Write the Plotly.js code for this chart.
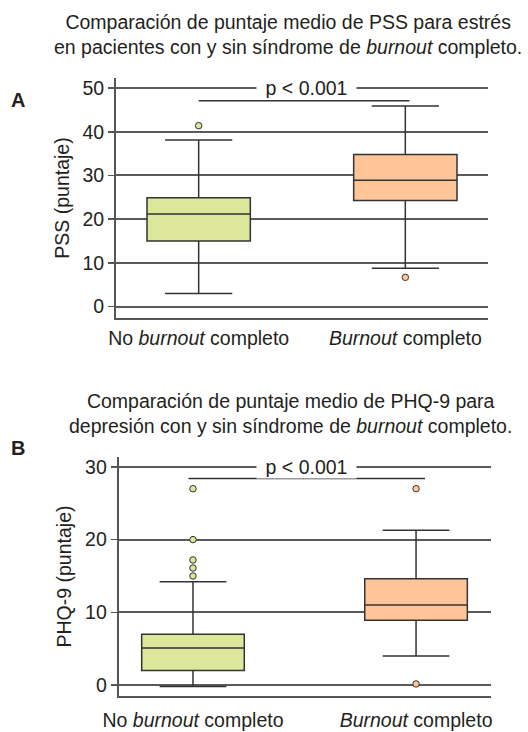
<!DOCTYPE html>
<html>
<head>
<meta charset="utf-8">
<script src="https://cdn.plot.ly/plotly-3.0.1.min.js"></script>
<style>html,body{margin:0;padding:0;background:#fff;}#chart{width:528px;height:732px;}</style>
</head>
<body>
<div id="chart"></div>
<script>
// Category labels
const categories = ["No <i>burnout</i> completo", "<i>Burnout</i> completo"];

// Panel A: PSS (estrés) box statistics  [No burnout, Burnout]
const pssQ1 = [15.0, 24.3];
const pssMedian = [21.2, 28.9];
const pssQ3 = [24.9, 34.8];
const pssLower = [3.0, 8.8];
const pssUpper = [38.1, 45.9];
const pssOutliersNo = [41.4];
const pssOutliersYes = [6.7];
const pssTicks = [0, 10, 20, 30, 40, 50];

// Panel B: PHQ-9 (depresión) box statistics
const phqQ1 = [2.0, 8.9];
const phqMedian = [5.1, 11.0];
const phqQ3 = [7.0, 14.6];
const phqLower = [-0.2, 4.0];
const phqUpper = [14.2, 21.3];
const phqOutliersNo = [27, 20, 17.2, 16.1, 15.0];
const phqOutliersYes = [27, 0.15];
const phqTicks = [0, 10, 20, 30];

const pText = "p < 0.001";

const green = "#dde79c";
const orange = "#fec598";
const lineCol = "#333333";
const gridCol = "#5a5a5a";
const axisCol = "#555555";
const txt = "#231f20";
const FONT = "Liberation Sans, Arial, sans-serif";
const FS = 19.5;

function boxTrace(i, q1, med, q3, lo, hi, color, xa, ya, w) {
  return {
    type: "box", x: [i], q1: [q1[i]], median: [med[i]], q3: [q3[i]],
    lowerfence: [lo[i]], upperfence: [hi[i]],
    width: w, whiskerwidth: 0.65, boxpoints: false,
    fillcolor: color, line: {color: lineCol, width: 1.5},
    xaxis: xa, yaxis: ya, showlegend: false, hoverinfo: "skip"
  };
}
function outTrace(i, ys, color, xa, ya) {
  return {
    type: "scatter", mode: "markers", x: ys.map(() => i), y: ys,
    marker: {size: 6.5, color: color, line: {color: lineCol, width: 1}},
    xaxis: xa, yaxis: ya, showlegend: false, hoverinfo: "skip"
  };
}

const data = [
  boxTrace(0, pssQ1, pssMedian, pssQ3, pssLower, pssUpper, green, "x", "y", 0.5),
  boxTrace(1, pssQ1, pssMedian, pssQ3, pssLower, pssUpper, orange, "x", "y", 0.5),
  outTrace(0, pssOutliersNo, green, "x", "y"),
  outTrace(1, pssOutliersYes, orange, "x", "y"),
  boxTrace(0, phqQ1, phqMedian, phqQ3, phqLower, phqUpper, green, "x2", "y2", 0.46),
  boxTrace(1, phqQ1, phqMedian, phqQ3, phqLower, phqUpper, orange, "x2", "y2", 0.46),
  outTrace(0, phqOutliersNo, green, "x2", "y2"),
  outTrace(1, phqOutliersYes, orange, "x2", "y2")
];

function xAxis(domain, range, anchor, standoff) {
  return {
    domain: domain, range: range, anchor: anchor, type: "linear",
    tickvals: [0, 1], ticktext: categories, ticks: "", showgrid: false,
    zeroline: false, showline: true, linecolor: axisCol, linewidth: 2,
    ticklabelstandoff: standoff,
    tickfont: {family: FONT, size: FS, color: txt}, fixedrange: true
  };
}
function yAxis(domain, range, anchor, ticks, title) {
  return {
    domain: domain, range: range, anchor: anchor, tickvals: ticks,
    ticks: "outside", ticklen: 6, tickwidth: 1.5, tickcolor: axisCol,
    showgrid: true, gridcolor: gridCol, gridwidth: 2, zeroline: false,
    showline: true, linecolor: axisCol, linewidth: 2,
    tickfont: {family: FONT, size: FS, color: txt},
    title: {text: title, font: {family: FONT, size: FS, color: txt}, standoff: 8},
    fixedrange: true
  };
}

const layout = {
  width: 528, height: 732,
  margin: {l: 0, r: 0, t: 0, b: 0},
  paper_bgcolor: "#ffffff", plot_bgcolor: "#ffffff",
  font: {family: FONT, size: FS, color: txt},
  showlegend: false,
  xaxis: xAxis([116/528, 488/528], [-0.4, 1.4], "y", 2),
  yaxis: yAxis([1 - 318/732, 1 - 78/732], [-2.6, 52.3], "x", pssTicks, "PSS (puntaje)"),
  xaxis2: xAxis([118.7/528, 491/528], [-0.333, 1.336], "y2", 5),
  yaxis2: yAxis([1 - 696.3/732, 1 - 456.7/732], [-1.55, 31.4], "x2", phqTicks, "PHQ-9 (puntaje)"),
  shapes: [
    {type: "line", xref: "x", yref: "y", x0: 0, x1: 1.02, y0: 47.1, y1: 47.1,
     line: {color: lineCol, width: 1.5}},
    {type: "line", xref: "x2", yref: "y2", x0: -0.02, x1: 1.04, y0: 28.4, y1: 28.4,
     line: {color: lineCol, width: 1.5}}
  ],
  annotations: [
    {xref: "x", yref: "y", x: 0.52, y: 50, text: pText, showarrow: false,
     bgcolor: "#ffffff", width: 97, height: 20, font: {family: FONT, size: FS, color: txt}},
    {xref: "x2", yref: "y2", x: 0.507, y: 30, text: pText, showarrow: false,
     bgcolor: "#ffffff", width: 97, height: 20, font: {family: FONT, size: FS, color: txt}},
    {xref: "paper", yref: "paper", x: 287.5/528, y: 1 - 34/732, xanchor: "center", yanchor: "middle",
     showarrow: false, font: {family: FONT, size: FS, color: txt},
     text: "Comparación de puntaje medio de PSS para estrés<br>en pacientes con y sin síndrome de <i>burnout</i> completo."},
    {xref: "paper", yref: "paper", x: 290/528, y: 1 - 413/732, xanchor: "center", yanchor: "middle",
     showarrow: false, font: {family: FONT, size: FS, color: txt},
     text: "Comparación de puntaje medio de PHQ-9 para<br>depresión con y sin síndrome de <i>burnout</i> completo."},
    {xref: "paper", yref: "paper", x: 18/528, y: 1 - 99.5/732, xanchor: "center", yanchor: "middle",
     showarrow: false, text: "<b>A</b>", font: {family: FONT, size: 20, color: txt}},
    {xref: "paper", yref: "paper", x: 17.5/528, y: 1 - 448/732, xanchor: "center", yanchor: "middle",
     showarrow: false, text: "<b>B</b>", font: {family: FONT, size: 20, color: txt}}
  ]
};

Plotly.newPlot("chart", data, layout, {staticPlot: true, displayModeBar: false});
</script>
</body>
</html>
